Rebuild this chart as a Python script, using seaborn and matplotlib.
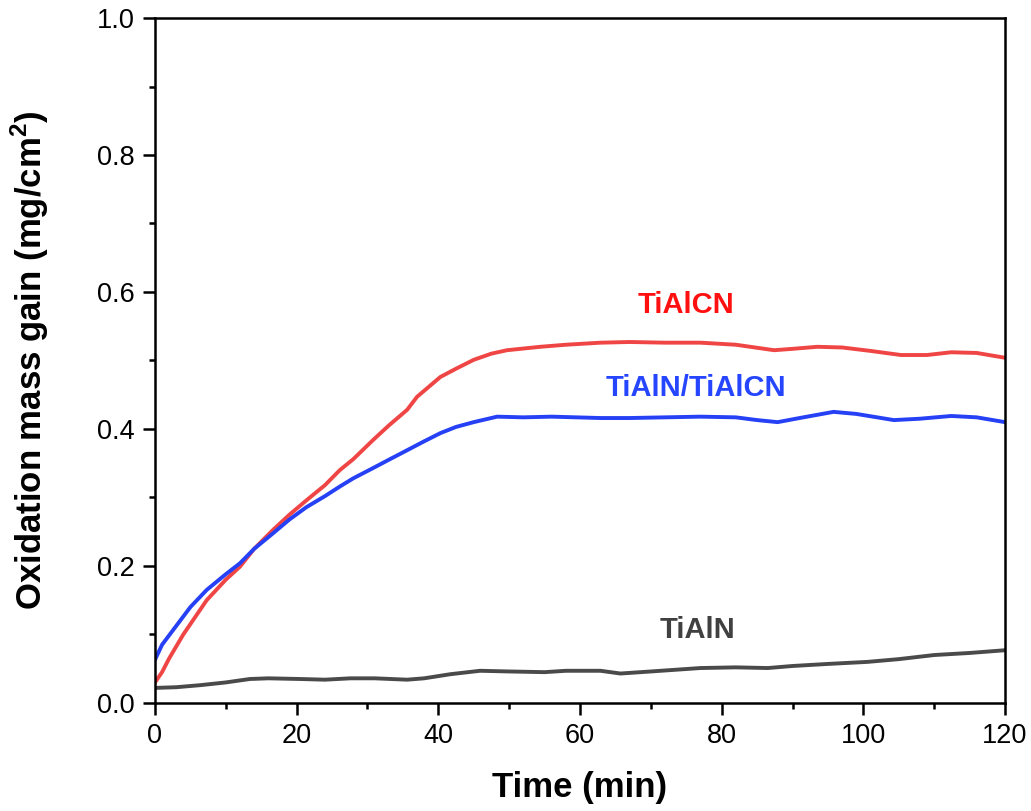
import numpy as np
import pandas as pd
import matplotlib
matplotlib.use("Agg")
import matplotlib.pyplot as plt
from matplotlib.ticker import MultipleLocator
import seaborn as sns

# ---- data ----
tialcn_t = [0, 1, 2, 4, 7.3, 10, 12, 14, 16.7, 19, 21.4, 24, 26.1, 28, 30.8, 33, 35.6, 37, 40.3,
            42.5, 45, 47.5, 49.7, 54.4, 58, 62.9, 67, 72, 77, 82, 87.4, 90, 93.5, 97, 101, 105.3,
            109, 112.4, 116, 120]
tialcn_y = [0.030, 0.045, 0.065, 0.100, 0.150, 0.180, 0.199, 0.225, 0.253, 0.275, 0.296, 0.318,
            0.340, 0.356, 0.384, 0.405, 0.428, 0.447, 0.476, 0.488, 0.501, 0.510, 0.515, 0.520,
            0.523, 0.526, 0.527, 0.526, 0.526, 0.523, 0.515, 0.517, 0.520, 0.519, 0.514, 0.508,
            0.508, 0.512, 0.511, 0.504]

multi_t = [0, 1, 2.6, 5, 7.3, 10, 12, 14, 16.7, 19, 21.4, 24, 26.1, 28, 30.8, 33, 35.6, 38, 40.3,
           42.5, 45, 48.3, 52, 56, 62.9, 67, 72, 77, 82, 85, 87.9, 91, 95.8, 99, 104.3, 108,
           112.4, 116, 120]
multi_y = [0.063, 0.085, 0.107, 0.140, 0.165, 0.188, 0.204, 0.225, 0.248, 0.268, 0.286, 0.302,
           0.316, 0.328, 0.343, 0.355, 0.369, 0.382, 0.394, 0.403, 0.410, 0.418, 0.417, 0.418,
           0.416, 0.416, 0.417, 0.418, 0.417, 0.413, 0.410, 0.416, 0.425, 0.422, 0.413, 0.415,
           0.419, 0.417, 0.410]

tialn_t = [0, 3, 6.4, 10, 13.4, 16, 20.5, 24, 27.6, 31, 35.6, 38, 41.7, 45.9, 50, 55, 58, 62.9,
           65.7, 70, 77, 82, 86.5, 90, 95, 100.6, 105, 110, 115, 120]
tialn_y = [0.022, 0.023, 0.026, 0.030, 0.035, 0.036, 0.035, 0.034, 0.036, 0.036, 0.034, 0.036,
           0.042, 0.047, 0.046, 0.045, 0.047, 0.047, 0.043, 0.046, 0.051, 0.052, 0.051, 0.054,
           0.057, 0.060, 0.064, 0.070, 0.073, 0.077]

series_names = ["TiAlCN", "TiAlN/TiAlCN", "TiAlN"]
series_colors = ["#F04545", "#2540F5", "#4A4A4A"]
label_colors = ["#FF1010", "#2545FF", "#404040"]

df = pd.concat([
    pd.DataFrame({"t": tialcn_t, "y": tialcn_y, "s": "TiAlCN"}),
    pd.DataFrame({"t": multi_t, "y": multi_y, "s": "TiAlN/TiAlCN"}),
    pd.DataFrame({"t": tialn_t, "y": tialn_y, "s": "TiAlN"}),
])

sns.set_style("ticks")
plt.rcParams["font.family"] = ["Liberation Sans", "DejaVu Sans"]
plt.rcParams["mathtext.fontset"] = "custom"
plt.rcParams["mathtext.rm"] = "Liberation Sans"
plt.rcParams["mathtext.bf"] = "Liberation Sans:bold"
plt.rcParams["text.color"] = "black"
plt.rcParams["axes.labelcolor"] = "black"
plt.rcParams["xtick.color"] = "black"
plt.rcParams["ytick.color"] = "black"

fig = plt.figure(figsize=(10.31, 8.11), dpi=100)
ax = fig.add_axes([0.1503, 0.1332, 0.8245, 0.8446])

sns.lineplot(data=df, x="t", y="y", hue="s", palette=dict(zip(series_names, series_colors)),
             linewidth=2.8, legend=False, ax=ax, sort=False, estimator=None)

ax.set_xlim(0, 120)
ax.set_ylim(0, 1.0)
ax.xaxis.set_major_locator(MultipleLocator(20))
ax.xaxis.set_minor_locator(MultipleLocator(10))
ax.yaxis.set_major_locator(MultipleLocator(0.2))
ax.yaxis.set_minor_locator(MultipleLocator(0.1))
ax.yaxis.set_major_formatter(matplotlib.ticker.FormatStrFormatter("%.1f"))

for sp in ax.spines.values():
    sp.set_linewidth(1.8)
    sp.set_color("black")

ax.tick_params(which="major", direction="out", length=8.5, width=1.8, labelsize=19.5,
               top=False, right=False, pad=6, colors="black")
ax.tick_params(which="minor", direction="out", length=4.3, width=1.8, top=False, right=False,
               colors="black")

ax.set_xlabel("Time (min)", fontsize=25, fontweight="bold", labelpad=16)
ax.set_ylabel(r"Oxidation mass gain (mg/cm$^{\mathbf{2}}$)", fontsize=25, fontweight="bold",
              labelpad=33)

label_pos = [(74.9, 0.581), (76.3, 0.460), (76.6, 0.107)]
for name, col, (lx, ly) in zip(series_names, label_colors, label_pos):
    ax.text(lx, ly, name, color=col, fontsize=21, fontweight="bold", ha="center", va="center")

fig.savefig("out.png", dpi=100)
